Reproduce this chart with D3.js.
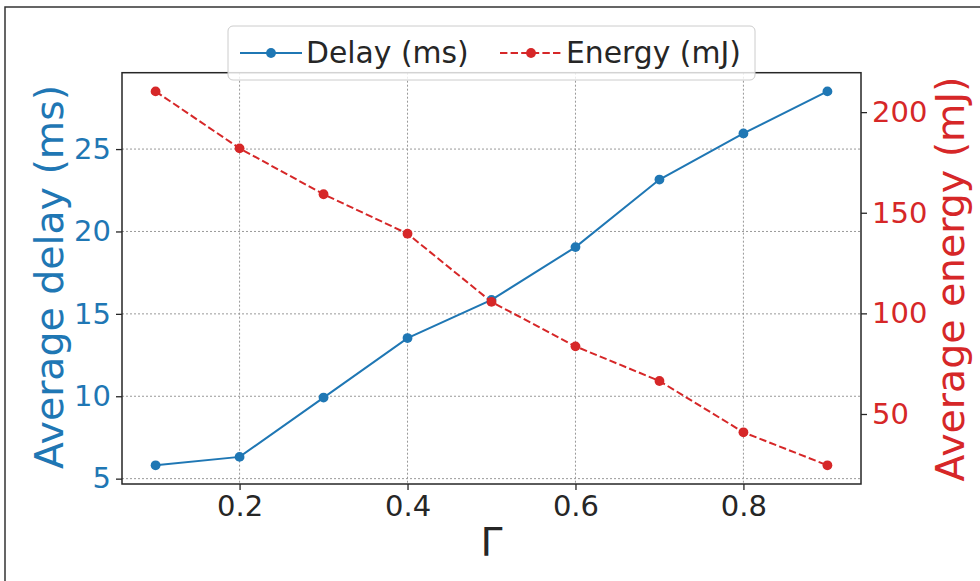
<!DOCTYPE html>
<html>
<head>
<meta charset="utf-8">
<script src="https://cdn.jsdelivr.net/npm/d3@7"></script>
<style>
  body { margin: 0; background: #fff; }
  svg { display: block; font-family: "DejaVu Sans", sans-serif; }
</style>
</head>
<body>
<svg id="chart" width="980" height="581"></svg>
<script>
// values
var gamma = [0.1, 0.2, 0.3, 0.4, 0.5, 0.6, 0.7, 0.8, 0.9];
var delay = [5.81, 6.32, 9.92, 13.53, 15.85, 19.05, 23.15, 25.95, 28.5];
var energy = [210.3, 182.0, 159.2, 139.6, 105.7, 83.6, 66.4, 40.9, 24.5];
var xTicks = [0.2, 0.4, 0.6, 0.8];
var delayTicks = [5, 10, 15, 20, 25];
var energyTicks = [50, 100, 150, 200];
var seriesNames = ["Delay (ms)", "Energy (mJ)"];

var blue = "#1f77b4", red = "#d62728", ink = "#262626";
// note: "top" is taken by window.top, so prefix plot edges
var pLeft = 122, pRight = 861, pTop = 72.7, pBottom = 484;
var tickFont = 29, labelFont = 39.4, legendFont = 29.8;

var svg = d3.select("#chart");

// figure frame (only left/top edges are inside the image)
svg.append("rect")
  .attr("x", 5).attr("y", 7).attr("width", 1000).attr("height", 600)
  .attr("fill", "#fff").attr("stroke", "#333").attr("stroke-width", 1.5);

// matplotlib-like 5% margins
function padded(ext){
  var r = ext[1] - ext[0];
  return [ext[0] - 0.05 * r, ext[1] + 0.05 * r];
}
var x = d3.scaleLinear().domain(padded(d3.extent(gamma))).range([pLeft, pRight]);
var yL = d3.scaleLinear().domain(padded(d3.extent(delay))).range([pBottom, pTop]);
var yR = d3.scaleLinear().domain(padded(d3.extent(energy))).range([pBottom, pTop]);

// grid
var grid = svg.append("g")
  .attr("stroke", "#999").attr("stroke-width", 1).attr("stroke-dasharray", "2,2");
grid.selectAll(".gx").data(xTicks).enter().append("line")
  .attr("x1", function(d){ return x(d); }).attr("x2", function(d){ return x(d); })
  .attr("y1", pTop).attr("y2", pBottom);
grid.selectAll(".gy").data(delayTicks).enter().append("line")
  .attr("x1", pLeft).attr("x2", pRight)
  .attr("y1", function(d){ return yL(d); }).attr("y2", function(d){ return yL(d); });

// axes
function styleAxis(g, color){
  g.select(".domain").remove();
  g.selectAll(".tick line").attr("stroke", ink).attr("stroke-width", 1.3);
  g.selectAll(".tick text").attr("fill", color)
    .style("font-size", tickFont + "px").style("font-family", "DejaVu Sans");
}
var gx = svg.append("g").attr("transform", "translate(0," + pBottom + ")")
  .call(d3.axisBottom(x).tickValues(xTicks).tickFormat(d3.format(".1f")).tickSize(6).tickPadding(5));
styleAxis(gx, ink);
var gl = svg.append("g").attr("transform", "translate(" + pLeft + ",0)")
  .call(d3.axisLeft(yL).tickValues(delayTicks).tickFormat(d3.format("d")).tickSize(6).tickPadding(5));
styleAxis(gl, blue);
var gr = svg.append("g").attr("transform", "translate(" + pRight + ",0)")
  .call(d3.axisRight(yR).tickValues(energyTicks).tickFormat(d3.format("d")).tickSize(6).tickPadding(5));
styleAxis(gr, red);

// series
var lineL = d3.line().x(function(d, i){ return x(gamma[i]); }).y(function(d){ return yL(d); });
var lineR = d3.line().x(function(d, i){ return x(gamma[i]); }).y(function(d){ return yR(d); });

svg.append("path").datum(delay).attr("d", lineL)
  .attr("fill", "none").attr("stroke", blue).attr("stroke-width", 2);
svg.selectAll(".dl").data(delay).enter().append("circle")
  .attr("cx", function(d, i){ return x(gamma[i]); }).attr("cy", function(d){ return yL(d); })
  .attr("r", 4.9).attr("fill", blue);

svg.append("path").datum(energy).attr("d", lineR)
  .attr("fill", "none").attr("stroke", red).attr("stroke-width", 2).attr("stroke-dasharray", "7.4,3.2");
svg.selectAll(".en").data(energy).enter().append("circle")
  .attr("cx", function(d, i){ return x(gamma[i]); }).attr("cy", function(d){ return yR(d); })
  .attr("r", 4.9).attr("fill", red);

// spines
svg.append("rect")
  .attr("x", pLeft).attr("y", pTop).attr("width", pRight - pLeft).attr("height", pBottom - pTop)
  .attr("fill", "none").attr("stroke", ink).attr("stroke-width", 1.5);

// axis labels
svg.append("text").attr("x", (pLeft + pRight) / 2).attr("y", 556)
  .attr("text-anchor", "middle").attr("fill", ink).style("font-size", labelFont + "px").text("Γ");
svg.append("text").attr("transform", "translate(63,277) rotate(-90)")
  .attr("text-anchor", "middle").attr("fill", blue).style("font-size", labelFont + "px").text("Average delay (ms)");
svg.append("text").attr("transform", "translate(964,279) rotate(-90)")
  .attr("text-anchor", "middle").attr("fill", red).style("font-size", labelFont + "px").text("Average energy (mJ)");

// legend
var leg = svg.append("g");
leg.append("rect").attr("x", 228).attr("y", 26).attr("width", 527).attr("height", 54)
  .attr("rx", 5).attr("fill", "#fff").attr("fill-opacity", 0.8)
  .attr("stroke", "#ccc").attr("stroke-width", 1);
var items = [
  { name: seriesNames[0], color: blue, dash: null, x0: 240 },
  { name: seriesNames[1], color: red, dash: "7.4,3.2", x0: 500 }
];
items.forEach(function(it){
  leg.append("line").attr("x1", it.x0).attr("x2", it.x0 + 62).attr("y1", 53).attr("y2", 53)
    .attr("stroke", it.color).attr("stroke-width", 2).attr("stroke-dasharray", it.dash);
  leg.append("circle").attr("cx", it.x0 + 31).attr("cy", 53).attr("r", 4.9).attr("fill", it.color);
  leg.append("text").attr("x", it.x0 + 66).attr("y", 63).attr("fill", ink)
    .style("font-size", legendFont + "px").text(it.name);
});
</script>
</body>
</html>
